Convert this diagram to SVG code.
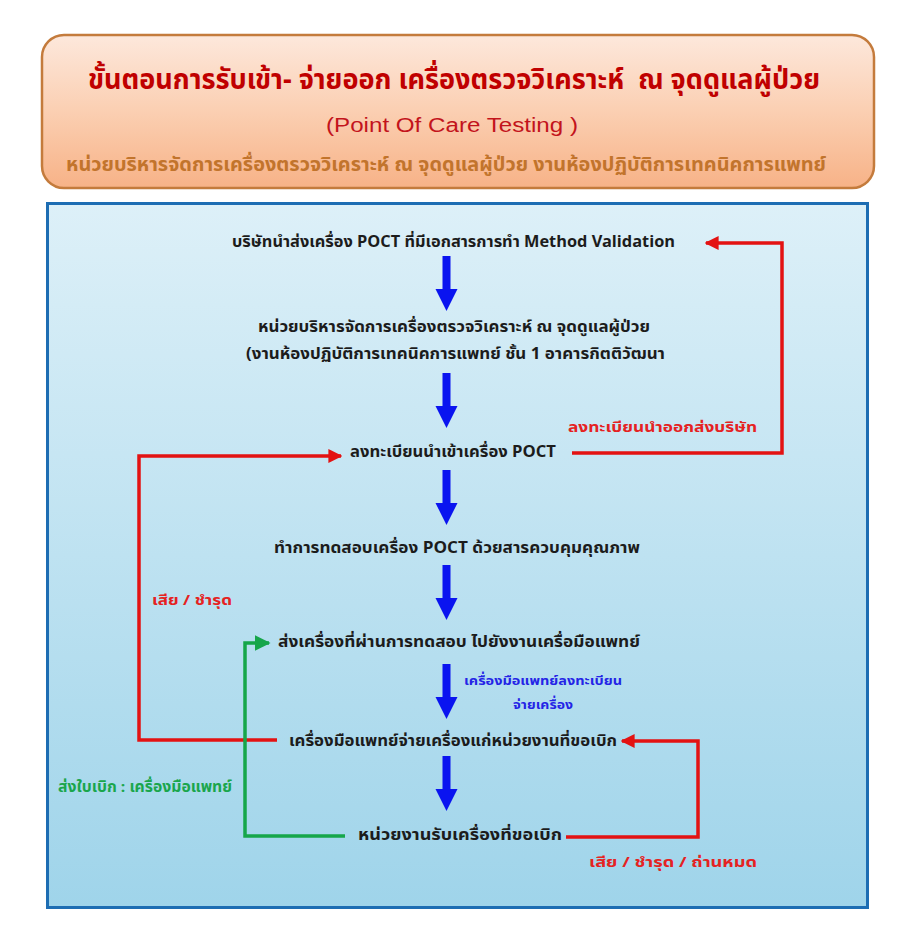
<svg xmlns="http://www.w3.org/2000/svg" width="908" height="930" viewBox="0 0 908 930">
<defs>
<linearGradient id="hdr" x1="0" y1="0" x2="0" y2="1">
<stop offset="0" stop-color="#fde8dc"/>
<stop offset="0.5" stop-color="#fbcfb2"/>
<stop offset="1" stop-color="#f7b287"/>
</linearGradient>
<linearGradient id="bg" x1="0" y1="0" x2="0" y2="1">
<stop offset="0" stop-color="#ddf0f8"/>
<stop offset="1" stop-color="#9fd4ea"/>
</linearGradient>
<path id="barrow" d="M-4,0 H4 V33 H11 L0,55 L-11,33 H-4 Z" fill="#0a14f0"/>
<marker id="ah-red" viewBox="0 0 10 10" refX="9" refY="5" markerWidth="4" markerHeight="4" orient="auto" markerUnits="strokeWidth">
<path d="M0,0 L10,5 L0,10 Z" fill="#e31212"/>
</marker>
<marker id="ah-green" viewBox="0 0 10 10" refX="9" refY="5" markerWidth="4.5" markerHeight="4.5" orient="auto" markerUnits="strokeWidth">
<path d="M0,0 L10,5 L0,10 Z" fill="#16a64a"/>
</marker>
</defs>
<style>
.th{font-family:"Noto Sans Thai","Tahoma","Liberation Sans","Noto Sans",sans-serif;}
.node{font-size:15.5px;font-weight:bold;fill:#1c1c1c;}
.lbl-red{font-size:14px;font-weight:bold;fill:#e52222;}
.lbl-blue{font-size:13px;font-weight:bold;fill:#2424e6;}
.lbl-green{font-size:15px;font-weight:bold;fill:#1aa64c;}
.red{fill:none;stroke:#e31212;stroke-width:3.5;stroke-linejoin:miter;}
.green{fill:none;stroke:#16a64a;stroke-width:3.5;}
</style>

<g id="header">
<rect x="42" y="35" width="832" height="153" rx="22" ry="22" fill="url(#hdr)" stroke="#c47b3c" stroke-width="2.5"/>
<text class="th" x="454" y="89" text-anchor="middle" font-size="28" font-weight="bold" fill="#c00000" style="white-space:pre" textLength="732" lengthAdjust="spacingAndGlyphs">ขั้นตอนการรับเข้า- จ่ายออก เครื่องตรวจวิเคราะห์  ณ จุดดูแลผู้ป่วย</text>
<text x="452" y="132" text-anchor="middle" font-family="Liberation Sans, Arial, sans-serif" font-size="20" fill="#c3141c" textLength="252" lengthAdjust="spacingAndGlyphs">(Point Of Care Testing )</text>
<text class="th" x="446" y="171" text-anchor="middle" font-size="18.5" font-weight="bold" fill="#c2742c" textLength="760" lengthAdjust="spacingAndGlyphs">หน่วยบริหารจัดการเครื่องตรวจวิเคราะห์ ณ จุดดูแลผู้ป่วย งานห้องปฏิบัติการเทคนิคการแพทย์</text>
</g>

<g id="panel">
<rect x="47.5" y="203.5" width="820" height="704" fill="url(#bg)" stroke="#1d6db3" stroke-width="3"/>
</g>

<g id="connectors">
<use href="#barrow" x="446.5" y="256"/>
<use href="#barrow" x="446.5" y="373"/>
<use href="#barrow" x="446.5" y="470"/>
<use href="#barrow" x="446.5" y="565"/>
<use href="#barrow" x="446.5" y="664"/>
<use href="#barrow" x="446.5" y="756"/>
<polyline class="red" points="572,453 782,453 782,243 706,243" marker-end="url(#ah-red)"/>
<polyline class="red" points="277,740 139,740 139,456 341,456" marker-end="url(#ah-red)"/>
<polyline class="red" points="566,837 698,837 698,741 622,741" marker-end="url(#ah-red)"/>
<polyline class="green" points="345,836 245,836 245,643 269,643" marker-end="url(#ah-green)"/>
</g>

<g id="n1"><text class="th node" x="453.5" y="247" text-anchor="middle" textLength="443" lengthAdjust="spacingAndGlyphs">บริษัทนำส่งเครื่อง POCT ที่มีเอกสารการทำ Method Validation</text></g>
<g id="n2">
<text class="th node" x="454" y="332" text-anchor="middle" textLength="392" lengthAdjust="spacingAndGlyphs">หน่วยบริหารจัดการเครื่องตรวจวิเคราะห์ ณ จุดดูแลผู้ป่วย</text>
<text class="th node" x="455.5" y="359" text-anchor="middle" textLength="419" lengthAdjust="spacingAndGlyphs">(งานห้องปฏิบัติการเทคนิคการแพทย์ ชั้น 1 อาคารกิตติวัฒนา</text>
</g>
<g id="n3"><text class="th node" x="453" y="457" text-anchor="middle" textLength="206" lengthAdjust="spacingAndGlyphs">ลงทะเบียนนำเข้าเครื่อง POCT</text></g>
<g id="n4"><text class="th node" x="457" y="553" text-anchor="middle" textLength="366" lengthAdjust="spacingAndGlyphs">ทำการทดสอบเครื่อง POCT ด้วยสารควบคุมคุณภาพ</text></g>
<g id="n5"><text class="th node" x="459" y="647" text-anchor="middle" textLength="362" lengthAdjust="spacingAndGlyphs">ส่งเครื่องที่ผ่านการทดสอบ ไปยังงานเครื่อมือแพทย์</text></g>
<g id="n6"><text class="th node" x="453" y="746" text-anchor="middle" textLength="328" lengthAdjust="spacingAndGlyphs">เครื่องมือแพทย์จ่ายเครื่องแก่หน่วยงานที่ขอเบิก</text></g>
<g id="n7"><text class="th node" x="460" y="840" text-anchor="middle" textLength="204" lengthAdjust="spacingAndGlyphs">หน่วยงานรับเครื่องที่ขอเบิก</text></g>

<g id="labels">
<text class="th lbl-red" x="662.5" y="432" text-anchor="middle" textLength="189" lengthAdjust="spacingAndGlyphs">ลงทะเบียนนำออกส่งบริษัท</text>
<text class="th lbl-red" x="192" y="605" text-anchor="middle" textLength="80" lengthAdjust="spacingAndGlyphs">เสีย / ชำรุด</text>
<text class="th lbl-blue" x="543" y="685" text-anchor="middle" textLength="158" lengthAdjust="spacingAndGlyphs">เครื่องมือแพทย์ลงทะเบียน</text>
<text class="th lbl-blue" x="543" y="709" text-anchor="middle" textLength="60" lengthAdjust="spacingAndGlyphs">จ่ายเครื่อง</text>
<text class="th lbl-green" x="145" y="792" text-anchor="middle" textLength="174" lengthAdjust="spacingAndGlyphs">ส่งใบเบิก : เครื่องมือแพทย์</text>
<text class="th lbl-red" x="673" y="867" text-anchor="middle" font-size="15" textLength="168" lengthAdjust="spacingAndGlyphs">เสีย / ชำรุด / ถ่านหมด</text>
</g>
</svg>
